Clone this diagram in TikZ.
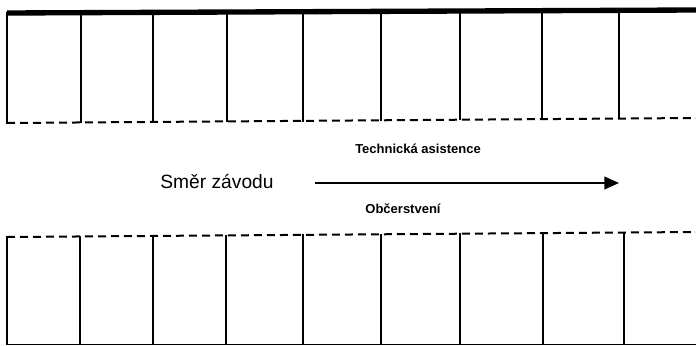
\documentclass[tikz,border=0pt]{standalone}
\usepackage{fontspec}
\setmainfont{Liberation Sans}
\usetikzlibrary{arrows.meta}
\usetikzlibrary{positioning}
\tikzset{every picture/.style={line width=0.75pt}}

\begin{document}
\begin{tikzpicture}[x=0.75pt,y=0.75pt,yscale=-1,xscale=1]

     \tikzstyle{wall} = [line width=1.1pt, line cap=rect]
     \tikzstyle{edge} = [line width=1.5pt, dash pattern=on 6pt off 3.75pt]
     \tikzstyle{label} = [inner sep=0pt, font=\bfseries\fontsize{9.75}{12}\selectfont]
     \tikzstyle{arrow} = [line width=1.5pt,-{Triangle[length=11pt,width=9.5pt]}]

\useasboundingbox (0,0) rectangle (696,346);

% upper row of stands
\draw[line width=4pt] (7,13) -- (696,10);
\draw[edge] (7,123) -- (696,118);
\foreach \x in {7,81,153,227,303,381,460,542,619}
  \draw[wall] (\x,{13-3*(\x-7)/689}) -- (\x,{123-5*(\x-7)/689});

% lower row of stands
\draw[edge] (7,237) -- (696,232);
\draw[wall] (7,344.5) -- (696,344.5);
\foreach \x in {7,80,153,226,303,381,460,543,624}
  \draw[wall] (\x,{237-5*(\x-7)/689}) -- (\x,344.5);

% direction of the race
\node[inner sep=0pt, font=\fontsize{14.4}{17}\selectfont] (smer) at (217,182) {Směr závodu};
\coordinate (start) at (315,183);
\coordinate (end) at (619,183);
\draw[arrow] (start) -- (end);
\node[label] (tech) at (418,149) {Technická asistence};
\node[label] (obc) at (403,209) {Občerstvení};

\end{tikzpicture}
\end{document}
